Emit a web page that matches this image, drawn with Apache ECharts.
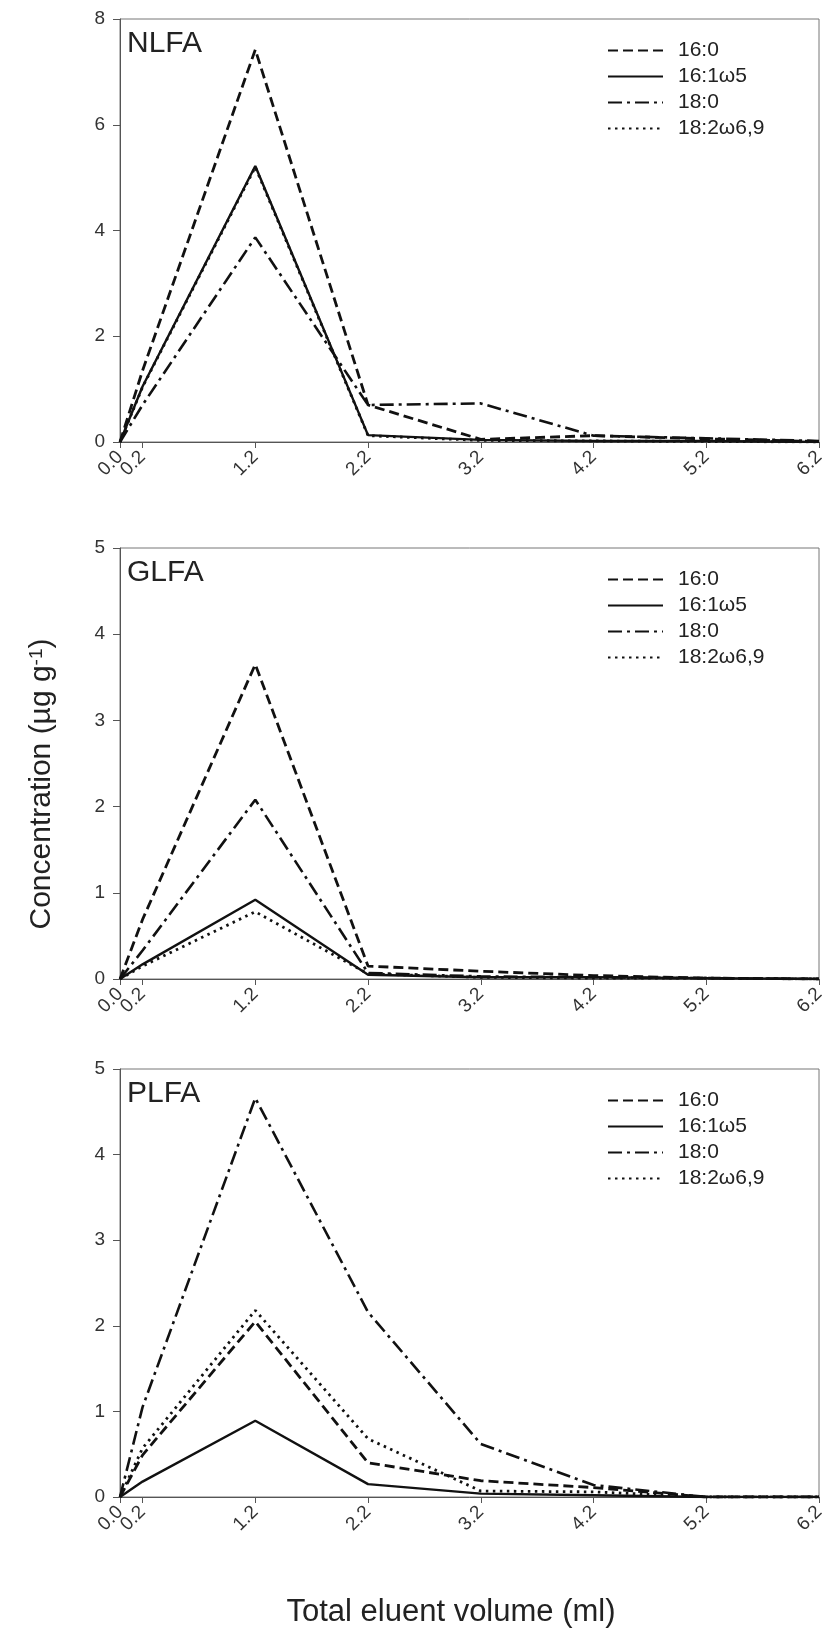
<!DOCTYPE html>
<html>
<head>
<meta charset="utf-8">
<script src="https://cdn.jsdelivr.net/npm/echarts@6/dist/echarts.min.js"></script>
<style>
  html, body { margin: 0; padding: 0; background: #fff; }
  #chart { width: 830px; height: 1633px; }
</style>
</head>
<body>
<div id="chart"></div>
<script>
// eluent volume (ml) where each fraction was measured
const volume = [0, 0.2, 1.2, 2.2, 3.2, 4.2, 5.2, 6.2]
const xTicks = [0, 0.2, 1.2, 2.2, 3.2, 4.2, 5.2, 6.2]
const xLabelsMain = [0, 1.2, 2.2, 3.2, 4.2, 5.2, 6.2]
const xLabelsExtra = [0.2] // overlaps 0.0, so it sits on its own axis
const fattyAcids = ['16:0', '16:1ω5', '18:0', '18:2ω6,9']
const panels = ['NLFA', 'GLFA', 'PLFA']
const yMax = [8, 5, 5]
const yStep = [2, 1, 1]

// NLFA
const nlfa160 = [0, 1.35, 7.42, 0.70, 0.05, 0.12, 0.06, 0.01]
const nlfa161w5 = [0, 1.05, 5.22, 0.13, 0.04, 0.02, 0.02, 0]
const nlfa180 = [0, 0.70, 3.87, 0.70, 0.73, 0.12, 0.07, 0.02]
const nlfa182w69 = [0, 1.04, 5.2, 0.12, 0.03, 0.02, 0.01, 0]
// GLFA
const glfa160 = [0, 0.69, 3.65, 0.15, 0.09, 0.04, 0.01, 0]
const glfa161w5 = [0, 0.17, 0.92, 0.05, 0.02, 0.02, 0.01, 0]
const glfa180 = [0, 0.33, 2.08, 0.07, 0.03, 0.02, 0.01, 0]
const glfa182w69 = [0, 0.15, 0.78, 0.06, 0.02, 0.01, 0.01, 0]
// PLFA
const plfa160 = [0, 0.49, 2.05, 0.40, 0.19, 0.11, 0, 0]
const plfa161w5 = [0, 0.18, 0.89, 0.15, 0.04, 0.02, 0, 0]
const plfa180 = [0, 1.05, 4.66, 2.16, 0.62, 0.14, 0, 0]
const plfa182w69 = [0, 0.57, 2.18, 0.68, 0.07, 0.06, 0, 0]

const panelData = [
  [nlfa160, nlfa161w5, nlfa180, nlfa182w69],
  [glfa160, glfa161w5, glfa180, glfa182w69],
  [plfa160, plfa161w5, plfa180, plfa182w69]
]

const grids = [
  { top: 19, height: 423 },
  { top: 548, height: 431 },
  { top: 1069, height: 428 }
]
const lineStyles = [
  { width: 2.8, type: [10, 5] },
  { width: 2.4, type: 'solid' },
  { width: 2.6, type: [14, 5, 3, 5] },
  { width: 2.8, type: [2.5, 4.5] }
]
const ink = '#111'
const axisGray = '#555'
const font = 'Liberation Sans, Arial, sans-serif'

const chart = echarts.init(document.getElementById('chart'), null, { renderer: 'canvas' })

const series = []
panelData.forEach((set, p) => {
  set.forEach((vals, k) => {
    series.push({
      type: 'line',
      name: fattyAcids[k],
      xAxisIndex: p,
      yAxisIndex: p,
      data: volume.map((v, i) => [v, vals[i]]),
      symbol: 'none',
      lineStyle: { color: ink, width: lineStyles[k].width, type: lineStyles[k].type },
      itemStyle: { color: ink },
      emphasis: { disabled: true },
      z: k === 1 ? 3 : 2
    })
  })
})

const labelStyle = {
  rotate: 45, margin: 12, fontSize: 19, color: '#333',
  showMinLabel: true, showMaxLabel: true, hideOverlap: false,
  formatter: v => v.toFixed(1)
}

const mainX = panels.map((t, p) => ({
  gridIndex: p, type: 'value', min: 0, max: 6.2, position: 'bottom',
  axisLine: { show: true, lineStyle: { color: axisGray } },
  axisTick: { show: true, customValues: xTicks, length: 6, lineStyle: { color: axisGray } },
  axisLabel: { ...labelStyle, customValues: xLabelsMain },
  splitLine: { show: false }
}))
const extraX = panels.map((t, p) => ({
  gridIndex: p, type: 'value', min: 0, max: 6.2, position: 'bottom', offset: 0,
  axisLine: { show: false },
  axisTick: { show: false },
  axisLabel: { ...labelStyle, customValues: xLabelsExtra },
  splitLine: { show: false }
}))

const option = {
  animation: false,
  backgroundColor: '#fff',
  textStyle: { fontFamily: font },
  grid: grids.map(g => ({
    left: 120, right: 11, top: g.top, height: g.height,
    show: true, borderColor: '#777', borderWidth: 1
  })),
  title: panels.map((t, p) => ({
    text: t, left: 127, top: grids[p].top + 10, padding: 0,
    textStyle: { fontSize: 30, fontWeight: 'normal', color: '#222', fontFamily: font }
  })),
  legend: panels.map((t, p) => ({
    orient: 'vertical', left: 607, top: grids[p].top + 21, padding: 0,
    itemWidth: 55, itemHeight: 14, itemGap: 5,
    itemStyle: { opacity: 0 },
    textStyle: { fontSize: 21, lineHeight: 21, color: '#222', padding: [0, 0, 0, 10], fontFamily: font },
    data: fattyAcids
  })),
  xAxis: mainX.concat(extraX),
  yAxis: panels.map((t, p) => ({
    gridIndex: p, type: 'value', min: 0, max: yMax[p], interval: yStep[p],
    axisLine: { show: true, lineStyle: { color: axisGray } },
    axisTick: { show: true, length: 7, lineStyle: { color: axisGray } },
    axisLabel: { fontSize: 19, margin: 15, color: '#333' },
    splitLine: { show: false }
  })),
  graphic: [
    {
      type: 'text', x: 42, y: 784, rotation: Math.PI / 2,
      style: {
        text: 'Concentration (µg g{sup|-1})',
        fill: '#222', fontSize: 30, fontFamily: font,
        align: 'center', verticalAlign: 'middle',
        rich: { sup: { fontSize: 19, verticalAlign: 'top', fill: '#222' } }
      }
    },
    {
      type: 'text', x: 451, y: 1612,
      style: {
        text: 'Total eluent volume (ml)',
        fill: '#222', fontSize: 31, fontFamily: font,
        align: 'center', verticalAlign: 'middle'
      }
    }
  ],
  series: series
}

chart.setOption(option)
</script>
</body>
</html>
